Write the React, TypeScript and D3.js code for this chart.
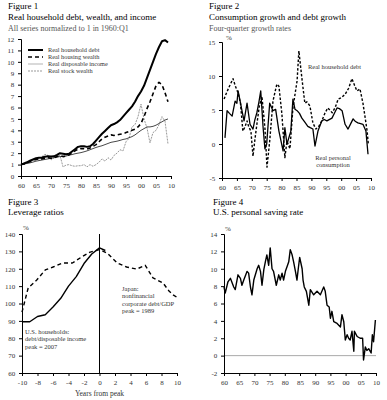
import React, { useEffect, useRef } from "react";
import * as d3 from "d3";

// Figure 1: yearly, normalized to 1 in 1960
const years1 = d3.range(1960, 2010);
const debt1 = [1.0, 1.1, 1.2, 1.35, 1.45, 1.55, 1.6, 1.62, 1.68, 1.72, 1.7, 1.72, 1.85, 2.0, 1.95, 1.9, 1.95, 2.15, 2.35, 2.55, 2.6, 2.6, 2.55, 2.6, 2.8, 3.1, 3.4, 3.7, 3.95, 4.2, 4.45, 4.55, 4.7, 4.9, 5.2, 5.5, 5.8, 6.1, 6.5, 7.0, 7.4, 7.9, 8.6, 9.3, 10.0, 10.7, 11.3, 11.8, 11.9, 11.7];
const housing1 = [1.0, 1.05, 1.15, 1.25, 1.35, 1.45, 1.5, 1.5, 1.55, 1.6, 1.55, 1.6, 1.7, 1.8, 1.7, 1.75, 1.85, 2.0, 2.2, 2.35, 2.4, 2.4, 2.35, 2.45, 2.6, 2.75, 3.0, 3.25, 3.4, 3.5, 3.6, 3.55, 3.6, 3.65, 3.7, 3.8, 3.9, 4.0, 4.1, 4.3, 4.6, 5.2, 5.9, 6.5, 7.2, 7.9, 8.2, 8.0, 7.3, 6.5];
const income1 = [1.0, 1.05, 1.1, 1.15, 1.22, 1.3, 1.35, 1.4, 1.45, 1.5, 1.55, 1.6, 1.65, 1.7, 1.72, 1.75, 1.82, 1.88, 1.95, 2.0, 2.05, 2.12, 2.2, 2.3, 2.4, 2.5, 2.58, 2.65, 2.75, 2.85, 2.95, 3.0, 3.05, 3.12, 3.2, 3.25, 3.35, 3.45, 3.6, 3.8, 4.0, 4.15, 4.3, 4.3, 4.35, 4.45, 4.6, 4.75, 4.9, 5.0];
const stock1 = [1.0, 1.1, 1.1, 1.3, 1.4, 1.5, 1.4, 1.7, 1.9, 1.8, 1.4, 1.6, 1.7, 1.8, 0.8, 0.95, 1.0, 0.9, 0.85, 0.9, 0.9, 1.0, 0.8, 1.0, 0.85, 1.0, 1.2, 1.5, 1.3, 1.6, 1.4, 1.8, 2.0, 2.3, 2.2, 3.0, 3.3, 4.3, 4.5, 5.2, 6.3, 5.0, 4.2, 2.9, 3.8, 4.0, 4.5, 5.2, 4.8, 2.8];
const legend1 = ["Real household debt", "Real housing wealth", "Real disposable income", "Real stock wealth"];

// Figure 2: four-quarter growth rates, [year, %]
const debtGrowth2: [number, number][] = [[1960.7, 6.6], [1961.5, 7.5], [1962.5, 8.5], [1963.7, 9.6], [1964.5, 8.5], [1965.4, 7.5], [1966.2, 6.0], [1967, 1.9], [1967.7, 2.5], [1968.4, 3.4], [1969, 2.5], [1969.7, 1.9], [1970.4, -1.8], [1971, 0.5], [1971.7, 2.9], [1972.5, 5.5], [1973.4, 7.0], [1974.4, 2.4], [1975.1, -3.4], [1976, 0.4], [1977.1, 6.3], [1978.4, 8.8], [1979.1, 8.5], [1980.1, 4.4], [1981.1, -2.0], [1981.8, 0.4], [1982.8, -0.7], [1983.8, 5.3], [1985.2, 9.3], [1985.8, 13.7], [1986.8, 9.7], [1987.8, 6.0], [1988.5, 6.2], [1989.5, 5.6], [1990.5, 3.1], [1991.5, 2.2], [1992.5, 2.6], [1993.5, 3.4], [1994.5, 4.5], [1995.5, 5.3], [1997, 4.6], [1998, 5.4], [1999, 6.6], [2000, 6.8], [2001.3, 7.3], [2002.5, 8.2], [2003.6, 9.6], [2004.5, 8.6], [2005.3, 7.8], [2006.3, 8.1], [2007.3, 6.0], [2008, 4.0], [2008.7, 1.9], [2009.1, 0.0]];
const consGrowth2: [number, number][] = [[1961, 0.9], [1961.7, 4.9], [1962.5, 4.5], [1963.4, 4.1], [1964.4, 6.3], [1965, 6.0], [1965.4, 7.8], [1966, 6.5], [1966.7, 4.9], [1967.4, 3.4], [1968.4, 6.0], [1969.4, 2.9], [1970.4, 2.2], [1971, 3.5], [1971.7, 4.6], [1972.4, 6.2], [1973, 7.8], [1973.8, 2.4], [1974.4, -0.7], [1975, 0.0], [1976, 6.0], [1977.1, 4.9], [1978, 5.1], [1979.1, 1.9], [1980.5, -1.0], [1981.1, 2.4], [1981.8, 0.0], [1983.1, 1.9], [1983.8, 6.6], [1984.5, 5.1], [1985.2, 4.9], [1986, 4.5], [1986.8, 3.8], [1987.8, 3.2], [1988.8, 2.6], [1989.6, 2.4], [1990.5, 2.2], [1991.2, -0.3], [1992.2, 1.9], [1993.5, 3.4], [1994.3, 3.6], [1995.2, 3.4], [1996.9, 3.8], [1997.8, 4.6], [1998.6, 5.3], [1999.4, 5.2], [2000.3, 4.9], [2001.3, 2.9], [2002.3, 2.2], [2003.2, 3.0], [2004, 3.7], [2004.8, 3.3], [2005.6, 3.1], [2006.5, 3.0], [2007.3, 2.9], [2008.3, 1.9], [2009, -1.5]];

// Figure 3: leverage ratios around peak, [years from peak, %]
const usHouseholds3: [number, number][] = [[-10, 89.5], [-9, 89.5], [-8, 92.5], [-7, 93.5], [-6, 98], [-5, 103], [-4, 110], [-3, 115.5], [-2, 123], [-1, 128.5], [0, 132], [0.75, 130.5]];
const japanCorp3: [number, number][] = [[-10, 95], [-9.2, 109], [-8.1, 113.5], [-7, 119.3], [-6, 121], [-4.8, 123.3], [-3.5, 123.3], [-2.3, 126.8], [-1.2, 129.6], [0, 131], [1, 129], [2.3, 123.3], [3.5, 121], [4.8, 119.8], [5.9, 122], [6.9, 114.7], [8.2, 111.8], [9, 107], [9.5, 105], [10, 103.5]];

// Figure 4: personal saving rate, [year, %]
const saving4: [number, number][] = [[1960, 7.9], [1960.4, 7.2], [1961.3, 8.5], [1962.1, 8.9], [1963.2, 7.9], [1963.7, 7.6], [1964.6, 9.3], [1965.4, 8.9], [1965.9, 8.1], [1966.5, 8.7], [1967.6, 9.7], [1968.1, 9.5], [1968.7, 7.9], [1969.2, 7.0], [1969.8, 8.7], [1970.9, 10.0], [1971.4, 10.4], [1972, 9.7], [1972.5, 8.1], [1973.1, 9.9], [1973.6, 10.8], [1974.1, 11.6], [1974.7, 10.4], [1975.2, 12.4], [1975.8, 10.0], [1976.3, 9.7], [1977.2, 8.1], [1978, 9.3], [1978.5, 8.7], [1979.1, 9.5], [1979.6, 8.7], [1980.2, 9.7], [1980.7, 10.2], [1981.3, 10.8], [1981.8, 12.2], [1982.4, 11.6], [1982.9, 10.8], [1983.5, 9.7], [1984, 8.7], [1984.5, 10.2], [1984.9, 11.3], [1985.7, 10.0], [1986, 8.7], [1986.4, 7.9], [1987.1, 7.4], [1987.9, 5.8], [1988.4, 7.6], [1989.5, 7.0], [1990.6, 7.4], [1991.7, 7.0], [1992.8, 7.9], [1993.3, 7.4], [1993.9, 5.8], [1994.6, 5.6], [1995, 4.3], [1995.5, 5.1], [1996.1, 3.9], [1997.2, 3.7], [1998.3, 3.3], [1998.8, 4.7], [1999.4, 3.9], [1999.9, 1.8], [2000.5, 2.4], [2001, 2.0], [2001.5, 1.8], [2002.1, 2.8], [2002.7, 0.5], [2002.9, 2.8], [2003.8, 2.2], [2004.8, 2.0], [2005.6, 2.0], [2005.9, -0.5], [2006.5, 1.0], [2007, 0.6], [2007.6, 0.8], [2008.4, 0.3], [2008.8, 2.4], [2009.2, 1.6], [2009.8, 4.1]];

const yearTicks = [1960, 1965, 1970, 1975, 1980, 1985, 1990, 1995, 2000, 2005, 2010];
const yearFmt = (d: number) => String(d % 100).padStart(2, "0");
const plainFmt = (d: number) => String(d);

const FONT = "'Liberation Serif', 'DejaVu Serif', serif";

export default function App() {
  const ref = useRef<SVGSVGElement>(null);

  useEffect(() => {
    const svg = d3.select(ref.current);
    svg.selectAll("*").remove();

    const label = (x: number, y: number, t: string, size: number, fill = "#333", anchor = "start") =>
      svg.append("text").attr("x", x).attr("y", y).attr("font-family", FONT)
        .attr("font-size", size).attr("fill", fill).attr("text-anchor", anchor).text(t);

    //titles
    const title = (x: number, y: number, lines: [string, number, string][]) => {
      lines.forEach(([t, dy, c], i) => label(x, y + dy, t, i === 2 ? 8 : 9, c));
    };
    title(8, 0, [["Figure 1", 9, "#000"], ["Real household debt, wealth, and income", 20, "#000"], ["All series normalized to 1 in 1960:Q1", 31, "#555"]]);
    title(209, 0, [["Figure 2", 9, "#000"], ["Consumption growth and debt growth", 20, "#000"], ["Four-quarter growth rates", 31, "#555"]]);
    title(8, 195, [["Figure 3", 10, "#000"], ["Leverage ratios", 20, "#000"]]);
    title(213, 195, [["Figure 4", 10, "#000"], ["U.S. personal saving rate", 20, "#000"]]);

    const drawAxes = (x: any, y: any, xticks: number[], yticks: number[], xfmt: any) => {
      const [y0] = y.range();
      const [x0] = x.range();
      const gx = svg.append("g").attr("transform", `translate(0,${y0})`)
        .call(d3.axisBottom(x).tickValues(xticks).tickFormat(xfmt).tickSize(3));
      const gy = svg.append("g").attr("transform", `translate(${x0},0)`)
        .call(d3.axisLeft(y).tickValues(yticks).tickFormat(plainFmt as any).tickSize(3));
      [gx, gy].forEach(g => {
        g.attr("font-family", FONT);
        g.select(".domain").attr("stroke", "#000");
        g.selectAll("text").attr("font-family", FONT).attr("font-size", 7).attr("fill", "#333");
      });
      gx.selectAll("text").attr("dy", "0.85em");
      gy.selectAll("text").attr("dx", "-0.1em");
    };

    const path = (data: [number, number][], x: any, y: any, stroke: string, w: number, dash?: string) => {
      svg.append("path")
        .attr("fill", "none").attr("stroke", stroke).attr("stroke-width", w)
        .attr("stroke-dasharray", dash || null).attr("stroke-linejoin", "round")
        .attr("d", d3.line<[number, number]>().x(d => x(d[0])).y(d => y(d[1]))(data));
    };

    // Figure 1
    const x1 = d3.scaleLinear().domain([1960, 2010]).range([21, 171]);
    const y1 = d3.scaleLinear().domain([0, 12]).range([176, 39]);
    drawAxes(x1, y1, yearTicks, d3.range(0, 13), yearFmt);
    const zip = (v: number[]) => years1.map((yr, i) => [yr, v[i]] as [number, number]);
    const styles1: [string, number, string | undefined][] = [["#000", 2, undefined], ["#000", 1.6, "4,3"], ["#333", 0.9, undefined], ["#999", 1, "2,1"]];
    path(zip(stock1), x1, y1, styles1[3][0], styles1[3][1], styles1[3][2]);
    path(zip(income1), x1, y1, styles1[2][0], styles1[2][1], styles1[2][2]);
    path(zip(housing1), x1, y1, styles1[1][0], styles1[1][1], styles1[1][2]);
    path(zip(debt1), x1, y1, styles1[0][0], styles1[0][1], styles1[0][2]);
    legend1.forEach((name, i) => {
      const ly = 50 + i * 7;
      svg.append("line").attr("x1", 28).attr("x2", 43).attr("y1", ly).attr("y2", ly)
        .attr("stroke", i === 2 ? "#aaa" : styles1[i][0]).attr("stroke-width", styles1[i][1])
        .attr("stroke-dasharray", styles1[i][2] || null);
      label(48, ly + 2, name, 6.3);
    });

    // Figure 2
    const x2 = d3.scaleLinear().domain([1960, 2010]).range([222, 371]);
    const y2 = d3.scaleLinear().domain([-5, 15]).range([178, 42]);
    drawAxes(x2, y2, yearTicks, [-5, 0, 5, 10, 15], yearFmt);
    path(debtGrowth2, x2, y2, "#000", 1.4, "2.5,1.8");
    path(consGrowth2, x2, y2, "#000", 1.3);
    label(226, 40, "%", 7);
    label(308, 69, "Real household debt", 6.5);
    label(333, 160, "Real personal", 6.5, "#333", "middle");
    label(333, 167, "consumption", 6.5, "#333", "middle");

    // Figure 3
    const x3 = d3.scaleLinear().domain([-10, 10]).range([22, 177]);
    const y3 = d3.scaleLinear().domain([60, 140]).range([373, 234]);
    drawAxes(x3, y3, d3.range(-10, 11, 2), d3.range(60, 141, 10), plainFmt);
    svg.append("line").attr("x1", x3(0)).attr("x2", x3(0)).attr("y1", y3(140)).attr("y2", y3(60)).attr("stroke", "#000").attr("stroke-width", 1);
    path(japanCorp3, x3, y3, "#000", 1.4, "4,3");
    path(usHouseholds3, x3, y3, "#000", 1.4);
    label(23, 230, "%", 7);
    label(x3(0), 396, "Years from peak", 7.5, "#333", "middle");
    ["Japan:", "nonfinancial", "corporate debt/GDP", "peak = 1989"].forEach((t, i) => label(122, 291 + i * 7.3, t, 6.5));
    ["U.S. households:", "debt/disposable income", "peak = 2007"].forEach((t, i) => label(25, 334 + i * 7.3, t, 6.5));

    // Figure 4
    const x4 = d3.scaleLinear().domain([1960, 2010]).range([224, 376]);
    const y4 = d3.scaleLinear().domain([-2, 14]).range([373, 234]);
    svg.append("line").attr("x1", x4(1960)).attr("x2", x4(2010)).attr("y1", y4(0)).attr("y2", y4(0)).attr("stroke", "#aaa").attr("stroke-width", 1);
    drawAxes(x4, y4, yearTicks, d3.range(-2, 15, 2), yearFmt);
    path(saving4, x4, y4, "#000", 1.4);
    label(225, 231, "%", 7);
  }, []);

  return (
    <svg ref={ref} width={387} height={400}
      style={{ position: "absolute", left: 0, top: 0, background: "#fff", fontFamily: FONT }} />
  );
}
